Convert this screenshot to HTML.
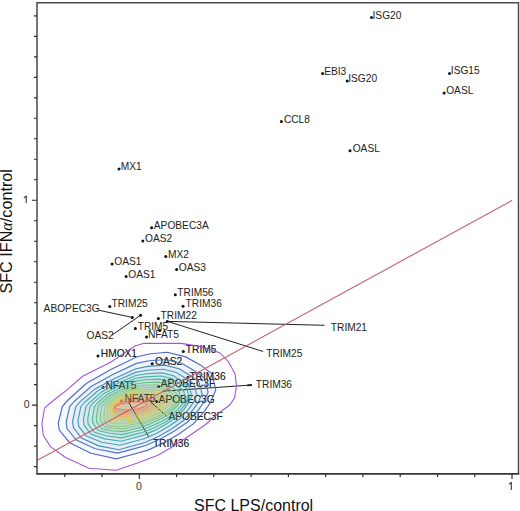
<!DOCTYPE html>
<html><head><meta charset="utf-8"><style>
html,body{margin:0;padding:0;background:#fff;width:520px;height:511px;overflow:hidden}
svg{display:block}
</style></head><body>
<svg width="520" height="511" viewBox="0 0 520 511"><rect width="520" height="511" fill="#fff"/><g><polygon points="58.3,423.0 62.3,406.5 67.5,400.5 86.2,383.5 110.8,369.6 137.0,356.8 150.4,353.8 167.3,352.3 185.8,356.9 201.2,365.4 211.9,373.8 215.8,390.0 210.6,402.2 204.8,410.9 193.3,423.9 178.9,434.0 164.4,442.6 148.0,450.1 136.0,453.5 116.3,458.8 90.9,453.3 69.7,442.7 59.2,430.0" fill="#5068c8" fill-opacity="0.045"/><polygon points="66.2,422.0 69.7,406.5 74.4,401.2 91.0,386.5 112.9,374.5 136.4,363.4 149.1,360.8 166.1,359.5 182.1,363.5 194.8,370.9 204.5,378.1 208.1,392.2 203.3,402.7 198.1,410.4 187.6,422.0 174.5,431.0 161.3,438.6 146.4,445.3 135.5,448.4 117.8,453.1 95.2,448.7 76.3,440.0 67.0,428.5" fill="#4a7ac4" fill-opacity="0.045"/><polygon points="72.6,421.3 75.8,406.4 80.0,401.8 95.0,388.9 114.6,378.4 135.9,368.7 148.0,366.4 164.9,365.2 179.1,368.7 189.8,375.2 198.8,381.6 202.1,393.9 197.7,403.1 192.8,410.1 183.2,420.8 171.1,429.2 158.9,436.3 145.1,442.5 135.0,445.3 119.0,449.7 98.7,445.9 81.8,438.4 73.4,427.6" fill="#458ec0" fill-opacity="0.045"/><polygon points="78.0,420.4 80.9,406.4 84.7,402.2 98.2,390.6 116.1,381.1 135.5,372.4 147.0,370.3 163.7,369.3 176.4,372.5 185.5,378.3 193.9,384.0 196.9,395.1 192.9,403.4 188.3,409.6 179.4,419.3 168.1,426.8 156.8,433.2 144.0,438.7 134.7,441.2 120.1,445.2 101.7,442.2 86.3,436.1 78.7,426.4" fill="#42a2b8" fill-opacity="0.045"/><polygon points="83.4,419.6 86.0,406.4 89.4,402.6 101.5,392.1 117.5,383.6 135.0,375.7 145.9,373.8 162.2,372.9 173.5,375.8 181.3,381.0 189.0,386.2 191.8,396.1 188.0,403.7 183.9,409.3 175.6,417.9 165.2,424.7 154.8,430.4 143.0,435.4 134.3,437.7 121.1,441.2 104.6,438.9 90.8,434.1 84.0,425.2" fill="#42b0ac" fill-opacity="0.045"/><polygon points="87.7,418.9 90.1,406.4 93.1,402.9 104.2,393.4 118.7,385.7 134.8,378.5 145.3,376.9 161.2,376.0 171.9,378.6 179.1,383.3 186.5,388.0 189.2,397.1 185.6,403.9 181.6,408.9 173.7,416.8 163.7,422.9 153.7,428.0 142.4,432.5 134.1,434.6 121.9,437.8 106.9,436.0 94.4,432.3 88.2,424.2" fill="#48b8a0" fill-opacity="0.045"/><polygon points="92.4,418.1 94.5,406.4 97.2,403.2 107.0,394.7 119.9,387.8 134.6,381.4 144.6,379.8 159.8,379.1 169.7,381.4 176.3,385.7 183.2,389.9 185.8,398.0 182.4,404.1 178.6,408.7 171.1,415.7 161.8,421.2 152.4,425.8 141.7,429.9 133.9,431.7 122.8,434.6 109.5,433.3 98.3,430.5 92.8,423.1" fill="#54bc94" fill-opacity="0.07"/><polygon points="96.3,417.4 98.2,406.3 100.6,403.6 109.4,396.0 121.0,389.8 134.2,384.2 143.6,382.8 158.1,382.2 167.1,384.2 172.7,388.0 179.1,391.7 181.5,398.9 178.4,404.3 174.9,408.4 168.0,414.7 159.3,419.6 150.6,423.8 140.8,427.4 133.6,429.0 123.6,431.6 111.6,430.7 101.7,428.8 96.7,422.1" fill="#66c088" fill-opacity="0.07"/><polygon points="100.2,416.7 101.9,406.3 104.1,403.8 111.8,397.1 122.0,391.6 134.0,386.6 142.9,385.4 156.7,384.8 165.2,386.6 170.6,390.0 176.7,393.3 178.9,399.7 175.9,404.5 172.6,408.1 166.1,413.7 157.9,418.1 149.6,421.8 140.3,425.0 133.4,426.5 124.3,428.8 113.8,428.2 105.0,427.1 100.6,421.1" fill="#80c47c" fill-opacity="0.07"/><polygon points="103.8,416.1 105.3,406.3 107.2,404.1 114.0,398.2 123.0,393.3 133.8,388.9 142.2,387.8 155.3,387.3 163.3,388.9 168.4,391.9 174.2,394.8 176.3,400.4 173.5,404.7 170.4,407.9 164.2,412.9 156.4,416.8 148.6,420.1 139.7,423.0 133.2,424.3 125.0,426.3 115.7,426.1 108.0,425.6 104.2,420.2" fill="#9cc866" fill-opacity="0.07"/><polygon points="107.1,414.7 108.3,406.2 110.0,404.3 116.0,399.0 123.9,394.8 133.4,390.8 141.1,389.9 153.2,389.4 160.4,390.8 164.9,393.5 170.1,396.1 172.0,401.1 169.5,404.8 166.7,407.6 161.0,412.0 154.0,415.4 146.9,418.3 138.8,420.8 132.9,421.9 125.6,423.7 117.5,423.4 110.7,422.9 107.3,418.3" fill="#b8cc5c" fill-opacity="0.07"/><polygon points="109.9,413.4 111.0,406.2 112.5,404.5 117.7,399.9 124.6,396.2 133.2,392.7 140.2,391.9 151.2,391.5 157.8,392.7 162.0,395.0 166.9,397.3 168.6,401.7 166.3,405.0 163.7,407.4 158.5,411.2 152.0,414.2 145.5,416.7 138.1,418.9 132.7,419.9 126.2,421.4 119.1,421.1 113.1,420.5 110.2,416.4" fill="#d0cc54" fill-opacity="0.07"/><polygon points="112.1,412.0 113.1,406.2 114.4,404.7 119.0,400.7 125.2,397.4 132.8,394.4 139.0,393.7 148.7,393.4 154.7,394.5 158.5,396.5 162.8,398.4 164.3,402.2 162.2,405.1 159.9,407.2 155.3,410.4 149.6,412.9 143.8,415.1 137.2,416.9 132.4,417.8 126.6,419.1 120.2,418.7 114.9,417.9 112.3,414.5" fill="#e2c254" fill-opacity="0.07"/><polygon points="113.5,410.7 114.4,406.1 115.6,404.9 119.9,401.6 125.6,398.9 132.5,396.4 138.1,395.8 146.5,395.5 152.0,396.4 155.6,398.0 159.5,399.7 160.9,402.9 159.0,405.3 156.9,407.0 152.8,409.7 147.6,411.8 142.4,413.5 136.5,415.1 132.2,415.8 126.8,416.9 121.0,416.4 116.1,415.5 113.7,412.7" fill="#ecb05a" fill-opacity="0.07"/><polygon points="114.2,409.5 115.1,406.1 116.2,405.1 120.4,402.5 125.8,400.3 132.1,398.3 136.6,397.8 143.4,397.6 148.1,398.3 151.4,399.6 154.6,400.9 155.7,403.5 154.2,405.4 152.4,406.8 149.0,408.9 144.7,410.6 140.3,412.0 135.4,413.2 131.8,413.7 127.0,414.6 121.4,414.1 116.7,413.1 114.4,410.9" fill="#f09c62" fill-opacity="0.07"/><polygon points="114.6,408.3 115.4,406.1 116.6,405.4 120.6,403.4 125.9,401.7 131.8,400.2 135.4,399.9 140.5,399.7 144.7,400.3 147.8,401.2 150.5,402.2 151.4,404.1 150.2,405.6 148.7,406.6 145.8,408.1 142.2,409.3 138.6,410.4 134.5,411.2 131.5,411.7 127.1,412.3 121.6,411.8 117.0,410.8 114.8,409.3" fill="#f0886a" fill-opacity="0.07"/><polygon points="114.9,407.3 115.8,406.0 116.9,405.6 120.8,404.2 126.0,403.2 131.4,402.2 134.1,401.9 137.5,401.8 141.2,402.2 144.2,402.8 146.4,403.5 147.2,404.8 146.1,405.7 145.0,406.4 142.7,407.4 139.8,408.2 136.9,408.8 133.6,409.4 131.2,409.7 127.1,410.1 121.8,409.6 117.3,408.8 115.1,407.8" fill="#f6c8a0" fill-opacity="0.4"/></g><polyline points="98.5,310.2 132.3,317.4" fill="none" stroke="#222" stroke-width="1"/><polyline points="111.9,335.2 140.6,315.2" fill="none" stroke="#222" stroke-width="1"/><polyline points="167.3,321.4 205.0,322.3 324.6,325.3" fill="none" stroke="#222" stroke-width="1"/><polyline points="167.3,321.3 263.1,351.5" fill="none" stroke="#222" stroke-width="1"/><polyline points="162.5,391.2 251.7,385.0" fill="none" stroke="#222" stroke-width="1"/><polyline points="148.5,400.0 166.8,416.3" fill="none" stroke="#222" stroke-width="1"/><polyline points="128.0,401.2 149.0,437.3" fill="none" stroke="#222" stroke-width="1"/><circle cx="371.5" cy="17.6" r="1.5" fill="#111"/><circle cx="322.6" cy="73.5" r="1.5" fill="#111"/><circle cx="347.2" cy="81.1" r="1.5" fill="#111"/><circle cx="449.5" cy="73.5" r="1.5" fill="#111"/><circle cx="444.1" cy="93.0" r="1.5" fill="#111"/><circle cx="281.4" cy="121.5" r="1.5" fill="#111"/><circle cx="350.0" cy="150.8" r="1.5" fill="#111"/><circle cx="119.0" cy="169.0" r="1.5" fill="#111"/><circle cx="151.6" cy="227.8" r="1.5" fill="#111"/><circle cx="142.8" cy="241.1" r="1.5" fill="#111"/><circle cx="165.8" cy="256.6" r="1.5" fill="#111"/><circle cx="112.1" cy="264.1" r="1.5" fill="#111"/><circle cx="176.6" cy="269.6" r="1.5" fill="#111"/><circle cx="126.1" cy="276.6" r="1.5" fill="#111"/><circle cx="175.3" cy="294.7" r="1.5" fill="#111"/><circle cx="183.0" cy="306.3" r="1.5" fill="#111"/><circle cx="109.8" cy="306.4" r="1.5" fill="#111"/><circle cx="158.4" cy="318.4" r="1.5" fill="#111"/><circle cx="135.4" cy="328.4" r="1.5" fill="#111"/><circle cx="146.5" cy="337.1" r="1.5" fill="#111"/><circle cx="98.0" cy="356.1" r="1.5" fill="#111"/><circle cx="183.3" cy="351.4" r="1.5" fill="#111"/><circle cx="152.2" cy="363.7" r="1.5" fill="#111"/><circle cx="103.1" cy="387.6" r="1.5" fill="#111"/><circle cx="188.0" cy="377.3" r="1.5" fill="#111"/><circle cx="158.8" cy="386.5" r="1.5" fill="#111"/><circle cx="121.4" cy="401.1" r="1.5" fill="#111"/><circle cx="156.5" cy="401.5" r="1.5" fill="#111"/><circle cx="132.3" cy="317.4" r="1.5" fill="#111"/><circle cx="140.6" cy="315.2" r="1.5" fill="#111"/><circle cx="167.3" cy="321.4" r="1.5" fill="#111"/><circle cx="159.8" cy="330.4" r="1.5" fill="#111"/><line x1="247.2" y1="385.3" x2="251.8" y2="385.0" stroke="#222" stroke-width="1.8"/><g font-family='"Liberation Sans", sans-serif' font-size="10.2" fill="#222"><text x="372.5" y="18.9">ISG20</text><text x="324.2" y="74.6">EBI3</text><text x="348.2" y="82.3">ISG20</text><text x="450.8" y="74.2">ISG15</text><text x="446.2" y="94.2">OASL</text><text x="283.9" y="122.7">CCL8</text><text x="352.7" y="152.3">OASL</text><text x="120.8" y="170.2">MX1</text><text x="153.8" y="229.2">APOBEC3A</text><text x="145" y="242.2">OAS2</text><text x="168" y="257.9">MX2</text><text x="114.3" y="265.4">OAS1</text><text x="178.8" y="270.9">OAS3</text><text x="128.3" y="277.6">OAS1</text><text x="177.3" y="295.8">TRIM56</text><text x="185.6" y="307.0">TRIM36</text><text x="111.5" y="307.4">TRIM25</text><text x="160.6" y="319.0">TRIM22</text><text x="137.7" y="329.6">TRIM5</text><text x="148" y="338.3">NFAT5</text><text x="100.8" y="357.0">HMOX1</text><text x="185.8" y="352.6">TRIM5</text><text x="155" y="365.0">OAS2</text><text x="105.4" y="388.5">NFAT5</text><text x="189.4" y="379.9">TRIM36</text><text x="160.8" y="387.2">APOBEC3F</text><text x="124.6" y="402.0">NFAT5</text><text x="158.6" y="402.7">APOBEC3G</text><text x="43.6" y="311.9">ABOPEC3G</text><text x="86.5" y="339.4">OAS2</text><text x="330.8" y="331.0">TRIM21</text><text x="266.2" y="356.6">TRIM25</text><text x="255.8" y="388.1">TRIM36</text><text x="168.4" y="420.0">APOBEC3F</text><text x="152.9" y="446.9">TRIM36</text></g><g><polygon points="41.9,424.0 44.5,408.0 54.0,400.0 64.0,392.3 83.0,376.0 111.0,362.0 135.0,346.0 144.0,343.2 181.0,343.4 200.0,346.4 219.6,352.7 228.0,361.0 235.0,373.7 236.5,386.2 234.6,397.7 229.8,405.0 218.0,413.5 205.0,425.0 190.0,435.2 172.0,447.0 158.5,455.0 137.5,463.0 116.3,470.2 89.0,468.3 65.5,457.5 50.7,446.9 43.3,435.3" fill="none" stroke="#a855d8" stroke-width="1.1"/><polygon points="58.3,423.0 62.3,406.5 67.5,400.5 86.2,383.5 110.8,369.6 137.0,356.8 150.4,353.8 167.3,352.3 185.8,356.9 201.2,365.4 211.9,373.8 215.8,390.0 210.6,402.2 204.8,410.9 193.3,423.9 178.9,434.0 164.4,442.6 148.0,450.1 136.0,453.5 116.3,458.8 90.9,453.3 69.7,442.7 59.2,430.0" fill="none" stroke="#5068c8" stroke-opacity="1.0" stroke-width="1.15"/><polygon points="66.2,422.0 69.7,406.5 74.4,401.2 91.0,386.5 112.9,374.5 136.4,363.4 149.1,360.8 166.1,359.5 182.1,363.5 194.8,370.9 204.5,378.1 208.1,392.2 203.3,402.7 198.1,410.4 187.6,422.0 174.5,431.0 161.3,438.6 146.4,445.3 135.5,448.4 117.8,453.1 95.2,448.7 76.3,440.0 67.0,428.5" fill="none" stroke="#4a7ac4" stroke-opacity="1.0" stroke-width="1.15"/><polygon points="72.6,421.3 75.8,406.4 80.0,401.8 95.0,388.9 114.6,378.4 135.9,368.7 148.0,366.4 164.9,365.2 179.1,368.7 189.8,375.2 198.8,381.6 202.1,393.9 197.7,403.1 192.8,410.1 183.2,420.8 171.1,429.2 158.9,436.3 145.1,442.5 135.0,445.3 119.0,449.7 98.7,445.9 81.8,438.4 73.4,427.6" fill="none" stroke="#458ec0" stroke-opacity="1.0" stroke-width="1.15"/><polygon points="78.0,420.4 80.9,406.4 84.7,402.2 98.2,390.6 116.1,381.1 135.5,372.4 147.0,370.3 163.7,369.3 176.4,372.5 185.5,378.3 193.9,384.0 196.9,395.1 192.9,403.4 188.3,409.6 179.4,419.3 168.1,426.8 156.8,433.2 144.0,438.7 134.7,441.2 120.1,445.2 101.7,442.2 86.3,436.1 78.7,426.4" fill="none" stroke="#42a2b8" stroke-opacity="1.0" stroke-width="1.15"/><polygon points="83.4,419.6 86.0,406.4 89.4,402.6 101.5,392.1 117.5,383.6 135.0,375.7 145.9,373.8 162.2,372.9 173.5,375.8 181.3,381.0 189.0,386.2 191.8,396.1 188.0,403.7 183.9,409.3 175.6,417.9 165.2,424.7 154.8,430.4 143.0,435.4 134.3,437.7 121.1,441.2 104.6,438.9 90.8,434.1 84.0,425.2" fill="none" stroke="#42b0ac" stroke-opacity="1.0" stroke-width="1.15"/><polygon points="87.7,418.9 90.1,406.4 93.1,402.9 104.2,393.4 118.7,385.7 134.8,378.5 145.3,376.9 161.2,376.0 171.9,378.6 179.1,383.3 186.5,388.0 189.2,397.1 185.6,403.9 181.6,408.9 173.7,416.8 163.7,422.9 153.7,428.0 142.4,432.5 134.1,434.6 121.9,437.8 106.9,436.0 94.4,432.3 88.2,424.2" fill="none" stroke="#48b8a0" stroke-opacity="1.0" stroke-width="1.15"/><polygon points="92.4,418.1 94.5,406.4 97.2,403.2 107.0,394.7 119.9,387.8 134.6,381.4 144.6,379.8 159.8,379.1 169.7,381.4 176.3,385.7 183.2,389.9 185.8,398.0 182.4,404.1 178.6,408.7 171.1,415.7 161.8,421.2 152.4,425.8 141.7,429.9 133.9,431.7 122.8,434.6 109.5,433.3 98.3,430.5 92.8,423.1" fill="none" stroke="#54bc94" stroke-opacity="1.0" stroke-width="1.15"/><polygon points="96.3,417.4 98.2,406.3 100.6,403.6 109.4,396.0 121.0,389.8 134.2,384.2 143.6,382.8 158.1,382.2 167.1,384.2 172.7,388.0 179.1,391.7 181.5,398.9 178.4,404.3 174.9,408.4 168.0,414.7 159.3,419.6 150.6,423.8 140.8,427.4 133.6,429.0 123.6,431.6 111.6,430.7 101.7,428.8 96.7,422.1" fill="none" stroke="#66c088" stroke-opacity="1.0" stroke-width="1.15"/><polygon points="100.2,416.7 101.9,406.3 104.1,403.8 111.8,397.1 122.0,391.6 134.0,386.6 142.9,385.4 156.7,384.8 165.2,386.6 170.6,390.0 176.7,393.3 178.9,399.7 175.9,404.5 172.6,408.1 166.1,413.7 157.9,418.1 149.6,421.8 140.3,425.0 133.4,426.5 124.3,428.8 113.8,428.2 105.0,427.1 100.6,421.1" fill="none" stroke="#80c47c" stroke-opacity="0.85" stroke-width="1.15"/><polygon points="103.8,416.1 105.3,406.3 107.2,404.1 114.0,398.2 123.0,393.3 133.8,388.9 142.2,387.8 155.3,387.3 163.3,388.9 168.4,391.9 174.2,394.8 176.3,400.4 173.5,404.7 170.4,407.9 164.2,412.9 156.4,416.8 148.6,420.1 139.7,423.0 133.2,424.3 125.0,426.3 115.7,426.1 108.0,425.6 104.2,420.2" fill="none" stroke="#9cc866" stroke-opacity="0.85" stroke-width="1.15"/><polygon points="107.1,414.7 108.3,406.2 110.0,404.3 116.0,399.0 123.9,394.8 133.4,390.8 141.1,389.9 153.2,389.4 160.4,390.8 164.9,393.5 170.1,396.1 172.0,401.1 169.5,404.8 166.7,407.6 161.0,412.0 154.0,415.4 146.9,418.3 138.8,420.8 132.9,421.9 125.6,423.7 117.5,423.4 110.7,422.9 107.3,418.3" fill="none" stroke="#b8cc5c" stroke-opacity="0.85" stroke-width="1.15"/><polygon points="109.9,413.4 111.0,406.2 112.5,404.5 117.7,399.9 124.6,396.2 133.2,392.7 140.2,391.9 151.2,391.5 157.8,392.7 162.0,395.0 166.9,397.3 168.6,401.7 166.3,405.0 163.7,407.4 158.5,411.2 152.0,414.2 145.5,416.7 138.1,418.9 132.7,419.9 126.2,421.4 119.1,421.1 113.1,420.5 110.2,416.4" fill="none" stroke="#d0cc54" stroke-opacity="0.85" stroke-width="1.15"/><polygon points="112.1,412.0 113.1,406.2 114.4,404.7 119.0,400.7 125.2,397.4 132.8,394.4 139.0,393.7 148.7,393.4 154.7,394.5 158.5,396.5 162.8,398.4 164.3,402.2 162.2,405.1 159.9,407.2 155.3,410.4 149.6,412.9 143.8,415.1 137.2,416.9 132.4,417.8 126.6,419.1 120.2,418.7 114.9,417.9 112.3,414.5" fill="none" stroke="#e2c254" stroke-opacity="0.85" stroke-width="1.15"/><polygon points="113.5,410.7 114.4,406.1 115.6,404.9 119.9,401.6 125.6,398.9 132.5,396.4 138.1,395.8 146.5,395.5 152.0,396.4 155.6,398.0 159.5,399.7 160.9,402.9 159.0,405.3 156.9,407.0 152.8,409.7 147.6,411.8 142.4,413.5 136.5,415.1 132.2,415.8 126.8,416.9 121.0,416.4 116.1,415.5 113.7,412.7" fill="none" stroke="#ecb05a" stroke-opacity="0.85" stroke-width="1.15"/><polygon points="114.2,409.5 115.1,406.1 116.2,405.1 120.4,402.5 125.8,400.3 132.1,398.3 136.6,397.8 143.4,397.6 148.1,398.3 151.4,399.6 154.6,400.9 155.7,403.5 154.2,405.4 152.4,406.8 149.0,408.9 144.7,410.6 140.3,412.0 135.4,413.2 131.8,413.7 127.0,414.6 121.4,414.1 116.7,413.1 114.4,410.9" fill="none" stroke="#f09c62" stroke-opacity="0.85" stroke-width="1.15"/><polygon points="114.6,408.3 115.4,406.1 116.6,405.4 120.6,403.4 125.9,401.7 131.8,400.2 135.4,399.9 140.5,399.7 144.7,400.3 147.8,401.2 150.5,402.2 151.4,404.1 150.2,405.6 148.7,406.6 145.8,408.1 142.2,409.3 138.6,410.4 134.5,411.2 131.5,411.7 127.1,412.3 121.6,411.8 117.0,410.8 114.8,409.3" fill="none" stroke="#f0886a" stroke-opacity="0.85" stroke-width="1.15"/><polygon points="114.9,407.3 115.8,406.0 116.9,405.6 120.8,404.2 126.0,403.2 131.4,402.2 134.1,401.9 137.5,401.8 141.2,402.2 144.2,402.8 146.4,403.5 147.2,404.8 146.1,405.7 145.0,406.4 142.7,407.4 139.8,408.2 136.9,408.8 133.6,409.4 131.2,409.7 127.1,410.1 121.8,409.6 117.3,408.8 115.1,407.8" fill="none" stroke="#e8746a" stroke-opacity="0.85" stroke-width="1.15"/></g><g font-family='"Liberation Sans", sans-serif' font-size="10.2" fill="#222" fill-opacity="0.45"><text x="100.8" y="357.0">HMOX1</text><text x="185.8" y="352.6">TRIM5</text><text x="155" y="365.0">OAS2</text><text x="105.4" y="388.5">NFAT5</text><text x="189.4" y="379.9">TRIM36</text><text x="160.8" y="387.2">APOBEC3F</text><text x="124.6" y="402.0">NFAT5</text><text x="158.6" y="402.7">APOBEC3G</text><text x="168.4" y="420.0">APOBEC3F</text><text x="152.9" y="446.9">TRIM36</text></g><line x1="37" y1="460.5" x2="512.2" y2="200.3" stroke="#c6606e" stroke-width="1.1"/><path d="M37,474V2.8H518.5V474" fill="none" stroke="#4a4a4a" stroke-width="1.5"/><path d="M36.25,473.9H519.25" fill="none" stroke="#363636" stroke-width="1.6"/><path d="M34,466.6H37 M34,446.1H37 M34,425.6H37 M32,405.1H37 M34,384.6H37 M34,364.1H37 M34,343.6H37 M34,323.1H37 M34,302.7H37 M34,282.2H37 M34,261.7H37 M34,241.2H37 M34,220.7H37 M32,200.2H37 M34,179.7H37 M34,159.2H37 M34,138.7H37 M34,118.2H37 M34,97.8H37 M34,77.3H37 M34,56.8H37 M34,36.3H37 M34,15.8H37 M64.8,474V477 M102.0,474V477 M139.3,474V479 M176.6,474V477 M213.8,474V477 M251.1,474V477 M288.4,474V477 M325.7,474V477 M362.9,474V477 M400.2,474V477 M437.5,474V477 M474.7,474V477 M512.0,474V479" stroke="#2a2a2a" stroke-width="1.15" fill="none"/><g font-family='"Liberation Sans", sans-serif' font-size="10.5" fill="#333"><text x="29.6" y="407.6" text-anchor="end">0</text><text x="138.9" y="489.7" text-anchor="middle">0</text></g><path d="M26.2,195.5V202.9M26.2,195.8L23.9,197.9M511.3,482V489.9M511.3,482.3L509,484.4" stroke="#333" stroke-width="1.1" fill="none"/><text x="194.0" y="511.2" font-family='"Liberation Sans", sans-serif' font-size="16" fill="#111">SFC LPS/control</text><text transform="translate(11.6,293.6) rotate(-90)" x="0" y="0" font-family='"Liberation Sans", sans-serif' font-size="16.2" fill="#111">SFC IFN<tspan font-family='"Liberation Serif", serif' font-style="italic">α</tspan>/control</text></svg>
</body></html>
